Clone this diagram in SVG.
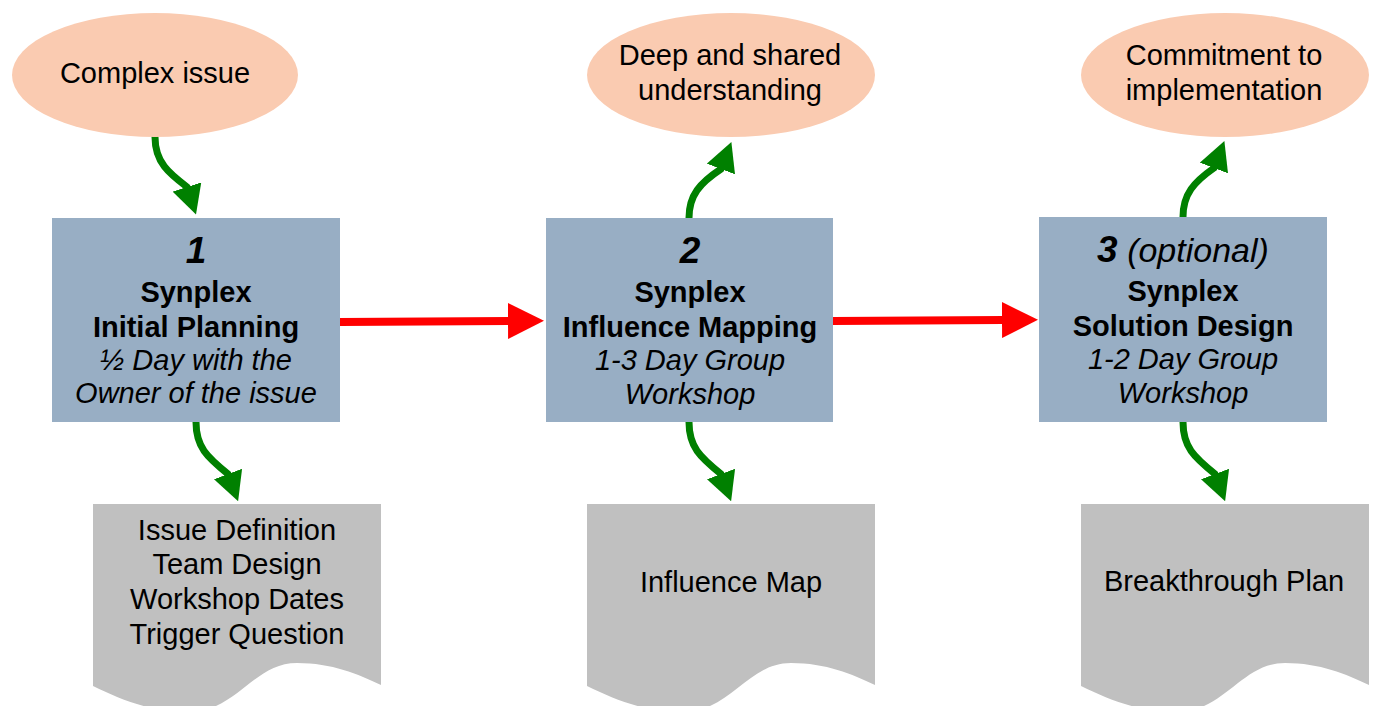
<svg xmlns="http://www.w3.org/2000/svg" xmlns:xlink="http://www.w3.org/1999/xlink" width="1374" height="706" viewBox="0 0 1374 706">
<style>
text{font-family:"Liberation Sans",Arial,sans-serif;fill:#000;text-anchor:middle}
.t{font-size:29px}
.b{font-size:29px;font-weight:bold}
.i{font-size:29px;font-style:italic}
.o{font-size:34px;font-style:italic}
.n{font-size:37px;font-weight:bold;font-style:italic}
.ell{fill:#FACBB1}
.box{fill:#98AEC4}
.doc{fill:#C0C0C0}
.g{fill:none;stroke:#008000;stroke-width:7;stroke-linecap:round}
.r{fill:none;stroke:#FF0000;stroke-width:8;stroke-linecap:round}
</style>
<defs>
<marker id="ga" markerUnits="userSpaceOnUse" viewBox="0 0 29 30" refX="1" refY="15" markerWidth="29" markerHeight="30" orient="auto">
<path d="M0,0 L29,15 L0,30 Z" fill="#008000"/>
</marker>
<marker id="ra" markerUnits="userSpaceOnUse" viewBox="0 0 36 36" refX="1" refY="18" markerWidth="36" markerHeight="36" orient="auto">
<path d="M0,0 L36,18 L0,36 Z" fill="#FF0000"/>
</marker>
<path id="docshape" d="M0,0 H288 V181 C265,170 239,159 204,159 C160,159 144,208 95,208 C58,208 29,196 0,182 Z"/>
</defs>

<g id="connectors">
<path class="g" d="M155,137 C155,163 170,174 187,187 l0.31,0.95" marker-end="url(#ga)"/>
<path class="g" d="M196,422 C196,447 207,457 228,474 l0.35,0.94" marker-end="url(#ga)"/>
<path class="g" d="M689,422 C689,447 700,457 721,474 l0.35,0.94" marker-end="url(#ga)"/>
<path class="g" d="M1183,422 C1183,447 1194,457 1215,474 l0.35,0.94" marker-end="url(#ga)"/>
<path class="g" d="M689,218 C689,195 700,183 721,169 l0.36,-0.94" marker-end="url(#ga)"/>
<path class="g" d="M1183,217 C1183,194 1194,182 1214,168 l0.36,-0.94" marker-end="url(#ga)"/>
<path class="r" d="M340,322 L509,321" marker-end="url(#ra)"/>
<path class="r" d="M833,321 L1003,320" marker-end="url(#ra)"/>
</g>

<g id="ellipse1">
<ellipse class="ell" cx="155" cy="75" rx="143" ry="62"/>
<text class="t" x="155" y="83">Complex issue</text>
</g>
<g id="ellipse2">
<ellipse class="ell" cx="731" cy="75" rx="144" ry="62"/>
<text class="t" x="730" y="65">Deep and shared</text>
<text class="t" x="730" y="100">understanding</text>
</g>
<g id="ellipse3">
<ellipse class="ell" cx="1225" cy="75" rx="144" ry="62"/>
<text class="t" x="1224" y="65">Commitment to</text>
<text class="t" x="1224" y="100">implementation</text>
</g>

<g id="box1">
<rect class="box" x="52" y="218" width="288" height="204"/>
<text class="n" x="196" y="263">1</text>
<text class="b" x="196" y="302">Synplex</text>
<text class="b" x="196" y="337">Initial Planning</text>
<text class="i" x="196" y="370">½ Day with the</text>
<text class="i" x="196" y="403">Owner of the issue</text>
</g>
<g id="box2">
<rect class="box" x="546" y="218" width="287" height="204"/>
<text class="n" x="690" y="263">2</text>
<text class="b" x="690" y="302">Synplex</text>
<text class="b" x="690" y="337">Influence Mapping</text>
<text class="i" x="690" y="370">1-3 Day Group</text>
<text class="i" x="690" y="404">Workshop</text>
</g>
<g id="box3">
<rect class="box" x="1039" y="217" width="288" height="205"/>
<text x="1183" y="262"><tspan class="n">3</tspan><tspan class="o"> (optional)</tspan></text>
<text class="b" x="1183" y="301">Synplex</text>
<text class="b" x="1183" y="336">Solution Design</text>
<text class="i" x="1183" y="369">1-2 Day Group</text>
<text class="i" x="1183" y="403">Workshop</text>
</g>

<g id="doc1">
<use xlink:href="#docshape" class="doc" x="93" y="504"/>
<text class="t" x="237" y="540">Issue Definition</text>
<text class="t" x="237" y="574">Team Design</text>
<text class="t" x="237" y="609">Workshop Dates</text>
<text class="t" x="237" y="644">Trigger Question</text>
</g>
<g id="doc2">
<use xlink:href="#docshape" class="doc" x="587" y="504"/>
<text class="t" x="731" y="592">Influence Map</text>
</g>
<g id="doc3">
<use xlink:href="#docshape" class="doc" x="1081" y="504"/>
<text class="t" x="1224" y="591">Breakthrough Plan</text>
</g>
</svg>
